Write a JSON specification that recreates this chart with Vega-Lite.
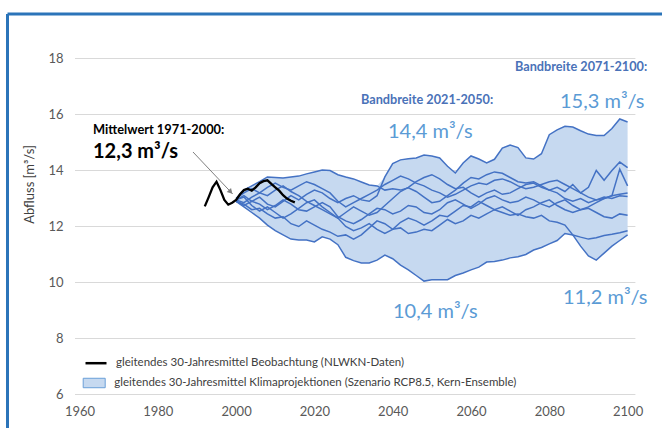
{
  "$schema": "https://vega.github.io/schema/vega-lite/v6.json",
  "width": 655,
  "height": 414.5,
  "autosize": {"type": "none"},
  "padding": {"left": 7, "top": 13.5, "right": 0, "bottom": 0},
  "background": "white",
  "config": {
    "view": {"stroke": null},
    "font": "Lato",
    "axisX": {"domainColor": "#2b74b9", "domainWidth": 3, "ticks": false, "tickSize": 0, "grid": false, "labelPadding": -397.5, "labelBaseline": "middle", "labelFontSize": 13, "labelColor": "#595959", "labelFont": "Lato", "labelFlush": false, "labelOverlap": false},
    "axisY": {"domainColor": "#2b74b9", "domainWidth": 3, "ticks": false, "tickSize": 0, "grid": false, "labelPadding": -56, "labelAlign": "right", "labelFontSize": 13, "labelColor": "#595959", "labelFont": "Lato", "labelFlush": false, "titleX": 22, "titleY": 170.5, "titleAngle": -90, "titleFontSize": 13, "titleFontWeight": "normal", "titleColor": "#404040", "titleFont": "Lato", "titleAlign": "center", "titleBaseline": "middle"}
  },
  "datasets": {
    "proj": [
      {"x": 2000, "a": 12.95, "b": 13.0, "c": 13.0, "d": 12.95, "e": 12.9, "f": 12.95, "g": 12.9, "h": 12.9},
      {"x": 2002, "a": 13.1, "b": 13.3, "c": 13.2, "d": 12.85, "e": 12.75, "f": 13.05, "g": 12.7, "h": 12.8},
      {"x": 2004, "a": 12.9, "b": 13.45, "c": 13.35, "d": 13.05, "e": 12.9, "f": 12.75, "g": 12.5, "h": 12.6},
      {"x": 2006, "a": 13.05, "b": 13.6, "c": 13.2, "d": 13.2, "e": 12.8, "f": 12.55, "g": 12.3, "h": 12.65},
      {"x": 2008, "a": 12.8, "b": 13.77, "c": 13.4, "d": 13.1, "e": 12.6, "f": 12.7, "g": 12.05, "h": 12.45},
      {"x": 2010, "a": 12.7, "b": 13.75, "c": 13.55, "d": 13.3, "e": 12.75, "f": 12.5, "g": 11.85, "h": 12.3},
      {"x": 2012, "a": 12.9, "b": 13.73, "c": 13.4, "d": 13.45, "e": 12.95, "f": 12.3, "g": 11.7, "h": 12.35},
      {"x": 2014, "a": 13.1, "b": 13.77, "c": 13.3, "d": 13.25, "e": 12.8, "f": 12.45, "g": 11.55, "h": 12.1},
      {"x": 2016, "a": 12.95, "b": 13.8, "c": 13.45, "d": 13.1, "e": 12.6, "f": 12.65, "g": 11.52, "h": 12.0},
      {"x": 2018, "a": 13.15, "b": 13.88, "c": 13.6, "d": 12.9, "e": 12.55, "f": 12.85, "g": 11.52, "h": 12.2},
      {"x": 2020, "a": 13.3, "b": 13.95, "c": 13.5, "d": 12.75, "e": 12.7, "f": 12.95, "g": 11.45, "h": 12.05},
      {"x": 2022, "a": 13.2, "b": 14.02, "c": 13.35, "d": 12.6, "e": 12.85, "f": 12.7, "g": 11.63, "h": 11.9},
      {"x": 2024, "a": 13.0, "b": 14.0, "c": 13.2, "d": 12.45, "e": 12.7, "f": 12.5, "g": 11.55, "h": 11.8},
      {"x": 2026, "a": 12.85, "b": 13.85, "c": 12.9, "d": 12.3, "e": 12.35, "f": 12.3, "g": 11.35, "h": 11.65},
      {"x": 2028, "a": 13.0, "b": 13.77, "c": 12.7, "d": 12.5, "e": 12.2, "f": 12.0, "g": 10.9, "h": 11.7},
      {"x": 2030, "a": 13.1, "b": 13.7, "c": 12.85, "d": 12.7, "e": 12.1, "f": 11.85, "g": 10.78, "h": 11.55},
      {"x": 2032, "a": 12.95, "b": 13.59, "c": 13.0, "d": 12.55, "e": 12.25, "f": 11.95, "g": 10.7, "h": 11.7},
      {"x": 2034, "a": 12.9, "b": 13.48, "c": 13.15, "d": 12.4, "e": 12.45, "f": 12.1, "g": 10.7, "h": 11.95},
      {"x": 2036, "a": 13.1, "b": 13.45, "c": 13.3, "d": 12.5, "e": 12.65, "f": 11.9, "g": 10.8, "h": 12.2},
      {"x": 2038, "a": 13.77, "b": 13.3, "c": 13.5, "d": 12.75, "e": 12.6, "f": 11.75, "g": 10.98, "h": 12.1},
      {"x": 2040, "a": 14.25, "b": 13.35, "c": 13.65, "d": 13.0, "e": 12.45, "f": 11.9, "g": 10.85, "h": 11.9},
      {"x": 2042, "a": 14.38, "b": 13.3, "c": 13.8, "d": 13.25, "e": 12.55, "f": 12.15, "g": 10.62, "h": 11.95},
      {"x": 2044, "a": 14.42, "b": 13.38, "c": 13.7, "d": 13.4, "e": 12.75, "f": 12.3, "g": 10.45, "h": 11.75},
      {"x": 2046, "a": 14.45, "b": 13.25, "c": 13.55, "d": 13.6, "e": 12.7, "f": 12.2, "g": 10.25, "h": 11.8},
      {"x": 2048, "a": 14.55, "b": 13.05, "c": 13.45, "d": 13.75, "e": 12.5, "f": 12.05, "g": 10.05, "h": 11.9},
      {"x": 2050, "a": 14.52, "b": 12.85, "c": 13.3, "d": 13.85, "e": 12.45, "f": 12.2, "g": 10.1, "h": 11.85},
      {"x": 2052, "a": 14.45, "b": 12.9, "c": 13.2, "d": 13.7, "e": 12.6, "f": 12.4, "g": 10.1, "h": 12.05},
      {"x": 2054, "a": 14.15, "b": 13.1, "c": 13.05, "d": 13.5, "e": 12.85, "f": 12.35, "g": 10.1, "h": 12.25},
      {"x": 2056, "a": 13.91, "b": 13.3, "c": 13.15, "d": 13.35, "e": 12.95, "f": 12.55, "g": 10.25, "h": 12.1},
      {"x": 2058, "a": 14.27, "b": 13.55, "c": 13.3, "d": 13.4, "e": 12.8, "f": 12.75, "g": 10.34, "h": 12.2},
      {"x": 2060, "a": 14.52, "b": 13.75, "c": 13.45, "d": 13.2, "e": 12.65, "f": 12.7, "g": 10.45, "h": 12.4},
      {"x": 2062, "a": 14.41, "b": 13.7, "c": 13.55, "d": 13.05, "e": 12.8, "f": 12.9, "g": 10.55, "h": 12.3},
      {"x": 2064, "a": 14.27, "b": 13.85, "c": 13.5, "d": 13.2, "e": 13.0, "f": 12.75, "g": 10.73, "h": 12.45},
      {"x": 2066, "a": 14.4, "b": 13.95, "c": 13.65, "d": 13.3, "e": 13.1, "f": 12.6, "g": 10.75, "h": 12.6},
      {"x": 2068, "a": 14.8, "b": 13.9, "c": 13.7, "d": 13.15, "e": 12.95, "f": 12.7, "g": 10.8, "h": 12.5},
      {"x": 2070, "a": 14.91, "b": 13.75, "c": 13.6, "d": 13.2, "e": 12.85, "f": 12.55, "g": 10.88, "h": 12.4},
      {"x": 2072, "a": 14.82, "b": 13.6, "c": 13.45, "d": 13.35, "e": 12.9, "f": 12.4, "g": 10.92, "h": 12.45},
      {"x": 2074, "a": 14.45, "b": 13.55, "c": 13.35, "d": 13.5, "e": 13.05, "f": 12.6, "g": 11.0, "h": 12.35},
      {"x": 2076, "a": 14.41, "b": 13.6, "c": 13.4, "d": 13.55, "e": 12.95, "f": 12.7, "g": 11.16, "h": 12.3},
      {"x": 2078, "a": 14.6, "b": 13.45, "c": 13.5, "d": 13.4, "e": 12.8, "f": 12.85, "g": 11.25, "h": 12.4},
      {"x": 2080, "a": 15.28, "b": 13.3, "c": 13.6, "d": 13.3, "e": 12.7, "f": 12.95, "g": 11.38, "h": 12.2},
      {"x": 2082, "a": 15.45, "b": 13.4, "c": 13.65, "d": 13.2, "e": 12.85, "f": 12.75, "g": 11.5, "h": 12.15},
      {"x": 2084, "a": 15.58, "b": 13.25, "c": 13.5, "d": 13.0, "e": 12.95, "f": 12.6, "g": 11.75, "h": 12.05},
      {"x": 2086, "a": 15.55, "b": 13.5, "c": 13.35, "d": 12.9, "e": 12.75, "f": 12.5, "g": 11.7, "h": 11.7},
      {"x": 2088, "a": 15.42, "b": 13.2, "c": 13.2, "d": 13.0, "e": 12.6, "f": 12.6, "g": 11.62, "h": 11.3},
      {"x": 2090, "a": 15.3, "b": 13.4, "c": 13.05, "d": 12.85, "e": 12.7, "f": 12.65, "g": 11.55, "h": 10.95},
      {"x": 2092, "a": 15.25, "b": 14.0, "c": 12.95, "d": 12.95, "e": 12.85, "f": 12.5, "g": 11.6, "h": 10.8},
      {"x": 2094, "a": 15.25, "b": 13.65, "c": 13.0, "d": 13.05, "e": 13.0, "f": 12.35, "g": 11.68, "h": 11.05},
      {"x": 2096, "a": 15.5, "b": 14.0, "c": 13.1, "d": 13.0, "e": 13.1, "f": 12.3, "g": 11.72, "h": 11.3},
      {"x": 2098, "a": 15.84, "b": 14.3, "c": 14.05, "d": 13.1, "e": 13.15, "f": 12.45, "g": 11.78, "h": 11.5},
      {"x": 2100, "a": 15.73, "b": 14.1, "c": 13.45, "d": 13.07, "e": 13.2, "f": 12.4, "g": 11.85, "h": 11.7}
    ],
    "obs": [
      {"x": 1992, "y": 12.72}, {"x": 1993, "y": 13.05}, {"x": 1994, "y": 13.4}, {"x": 1995, "y": 13.6},
      {"x": 1996, "y": 13.3}, {"x": 1997, "y": 12.95}, {"x": 1998, "y": 12.78}, {"x": 1999, "y": 12.85},
      {"x": 2000, "y": 12.95}, {"x": 2001, "y": 13.15}, {"x": 2002, "y": 13.3}, {"x": 2003, "y": 13.35},
      {"x": 2004, "y": 13.28}, {"x": 2005, "y": 13.4}, {"x": 2006, "y": 13.55}, {"x": 2007, "y": 13.62},
      {"x": 2008, "y": 13.65}, {"x": 2009, "y": 13.52}, {"x": 2010, "y": 13.4}, {"x": 2011, "y": 13.28},
      {"x": 2012, "y": 13.12}, {"x": 2013, "y": 13.0}, {"x": 2014, "y": 12.92}, {"x": 2015, "y": 12.86}
    ]
  },
  "layer": [
    {
      "data": {"values": [{"g": 6}, {"g": 8}, {"g": 10}, {"g": 12}, {"g": 14}, {"g": 16}, {"g": 18}]},
      "mark": {"type": "rule", "color": "#d9d9d9", "strokeWidth": 1},
      "encoding": {
        "y": {"field": "g", "type": "quantitative", "title": "Abfluss [m³/s]", "scale": {"domain": [4.804, 19.607], "nice": false, "zero": false}, "axis": {"orient": "left", "values": [6, 8, 10, 12, 14, 16, 18]}},
        "x": {"datum": 1958.85, "type": "quantitative", "title": null, "scale": {"domain": [1941.48, 2108.79], "nice": false, "zero": false}, "axis": {"orient": "top", "values": [1960, 1980, 2000, 2020, 2040, 2060, 2080, 2100], "format": "d"}},
        "x2": {"datum": 2102}
      }
    },
    {
      "data": {"name": "proj"},
      "transform": [
        {"fold": ["a", "b", "c", "d", "e", "f", "g", "h"], "as": ["run", "v"]},
        {"aggregate": [{"op": "min", "field": "v", "as": "lo"}, {"op": "max", "field": "v", "as": "hi"}], "groupby": ["x"]}
      ],
      "mark": {"type": "area", "opacity": 1},
      "encoding": {
        "x": {"field": "x", "type": "quantitative", "title": null},
        "y": {"field": "lo", "type": "quantitative", "title": "Abfluss [m³/s]"},
        "y2": {"field": "hi"},
        "fill": {"datum": "gleitendes 30-Jahresmittel Klimaprojektionen (Szenario RCP8.5, Kern-Ensemble)", "type": "nominal", "scale": {"range": ["#c6d9f0"]},
          "legend": {"orient": "none", "legendX": 75.7, "legendY": 358, "title": null, "padding": 0, "symbolType": "M-1,-0.43L1,-0.43L1,0.43L-1,0.43Z", "symbolSize": 484, "symbolStrokeColor": "#6a9fd8", "symbolStrokeWidth": 1, "symbolOpacity": 1, "labelOffset": 8.6, "labelFontSize": 11.5, "labelColor": "#404040", "labelFont": "Lato", "labelLimit": 600}}
      }
    },
    {
      "data": {"name": "proj"},
      "transform": [{"fold": ["a", "b", "c", "d", "e", "f", "g", "h"], "as": ["run", "v"]}],
      "mark": {"type": "line", "color": "#4472c4", "strokeWidth": 1.5},
      "encoding": {
        "x": {"field": "x", "type": "quantitative", "title": null},
        "y": {"field": "v", "type": "quantitative", "title": "Abfluss [m³/s]"},
        "detail": {"field": "run", "type": "nominal"}
      }
    },
    {
      "data": {"name": "obs"},
      "mark": {"type": "line", "strokeWidth": 2.3},
      "encoding": {
        "x": {"field": "x", "type": "quantitative", "title": null},
        "y": {"field": "y", "type": "quantitative", "title": "Abfluss [m³/s]"},
        "stroke": {"datum": "gleitendes 30-Jahresmittel Beobachtung (NLWKN-Daten)", "type": "nominal", "scale": {"range": ["#000000"]},
          "legend": {"orient": "none", "legendX": 77, "legendY": 337.7, "title": null, "padding": 0, "symbolType": "stroke", "symbolSize": 441, "symbolStrokeWidth": 2.5, "labelOffset": 8, "labelFontSize": 11.5, "labelColor": "#404040", "labelFont": "Lato", "labelLimit": 600}}
      }
    },
    {
      "data": {"values": [{"x": 1988.99, "y": 14.661, "x2": 1999.13, "y2": 13.161}]},
      "mark": {"type": "rule", "color": "#808080", "strokeWidth": 1},
      "encoding": {
        "x": {"field": "x", "type": "quantitative", "title": null},
        "y": {"field": "y", "type": "quantitative", "title": "Abfluss [m³/s]"},
        "x2": {"field": "x2"},
        "y2": {"field": "y2"}
      }
    },
    {
      "data": {"values": [{"x": 1998.6, "y": 13.239}]},
      "mark": {"type": "point", "shape": "triangle-up", "filled": true, "size": 35, "angle": 137, "color": "#808080", "opacity": 1},
      "encoding": {
        "x": {"field": "x", "type": "quantitative", "title": null},
        "y": {"field": "y", "type": "quantitative", "title": "Abfluss [m³/s]"}
      }
    },
    {
      "data": {"values": [{"x": 1963.45, "y": 15.446, "label": "Mittelwert 1971-2000:"}]},
      "mark": {"type": "text", "align": "left", "baseline": "middle", "font": "Lato", "fontSize": 12.8, "fontWeight": "bold", "color": "#000000"},
      "encoding": {"x": {"field": "x", "type": "quantitative", "title": null}, "y": {"field": "y", "type": "quantitative", "title": "Abfluss [m³/s]"}, "text": {"field": "label"}}
    },
    {
      "data": {"values": [{"x": 1963.45, "y": 14.661, "label": "12,3 m³/s"}]},
      "mark": {"type": "text", "align": "left", "baseline": "middle", "font": "Lato", "fontSize": 20, "fontWeight": "bold", "color": "#000000"},
      "encoding": {"x": {"field": "x", "type": "quantitative", "title": null}, "y": {"field": "y", "type": "quantitative", "title": "Abfluss [m³/s]"}, "text": {"field": "label"}}
    },
    {
      "data": {"values": [{"x": 2031.9, "y": 16.518, "label": "Bandbreite 2021-2050:"}, {"x": 2071.24, "y": 17.696, "label": "Bandbreite 2071-2100:"}]},
      "mark": {"type": "text", "align": "left", "baseline": "middle", "font": "Lato", "fontSize": 12.7, "fontWeight": "bold", "color": "#4a72b8"},
      "encoding": {"x": {"field": "x", "type": "quantitative", "title": null}, "y": {"field": "y", "type": "quantitative", "title": "Abfluss [m³/s]"}, "text": {"field": "label"}}
    },
    {
      "data": {"values": [
        {"x": 2082.73, "y": 16.446, "label": "15,3 m³/s"},
        {"x": 2038.8, "y": 15.375, "label": "14,4 m³/s"},
        {"x": 2040.08, "y": 8.946, "label": "10,4 m³/s"},
        {"x": 2083.5, "y": 9.446, "label": "11,2 m³/s"}
      ]},
      "mark": {"type": "text", "align": "left", "baseline": "middle", "font": "Lato", "fontSize": 20, "fontWeight": "normal", "color": "#5b9bd5"},
      "encoding": {"x": {"field": "x", "type": "quantitative", "title": null}, "y": {"field": "y", "type": "quantitative", "title": "Abfluss [m³/s]"}, "text": {"field": "label"}}
    }
  ]
}
